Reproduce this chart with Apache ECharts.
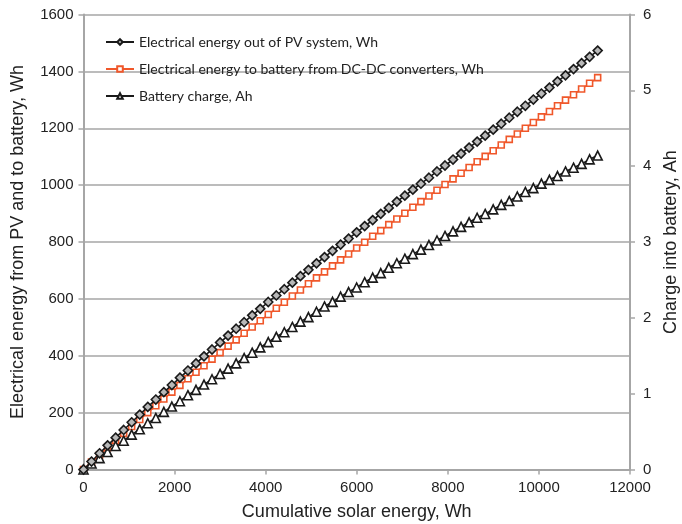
<!DOCTYPE html>
<html>
<head>
<meta charset="utf-8">
<script src="https://cdn.jsdelivr.net/npm/echarts@6/dist/echarts.min.js"></script>
<style>
  html, body { margin: 0; padding: 0; background: #fff; }
  #chart { width: 682px; height: 524px; }
</style>
</head>
<body>
<div id="chart"></div>
<script>
// cumulative solar energy, Wh
var solarWh = [0, 176, 353, 529, 706, 882, 1058, 1235, 1411, 1588, 1764, 1940, 2117, 2293, 2470, 2646,
  2822, 2999, 3175, 3352, 3528, 3704, 3881, 4057, 4234, 4410, 4586, 4763, 4939, 5116, 5292, 5468,
  5645, 5821, 5998, 6174, 6350, 6527, 6703, 6880, 7056, 7232, 7409, 7585, 7762, 7938, 8114, 8291,
  8467, 8644, 8820, 8996, 9173, 9349, 9526, 9702, 9878, 10055, 10231, 10408, 10584, 10760, 10937, 11113, 11290]

// electrical energy out of PV system, Wh
var pvOutWh = [0, 28, 57, 85, 112, 139, 166, 193, 220, 246, 272, 297, 323, 348, 373, 398,
  422, 447, 471, 495, 518, 542, 565, 589, 612, 634, 657, 680, 702, 725, 747, 769,
  791, 812, 834, 856, 877, 899, 920, 942, 963, 984, 1005, 1026, 1048, 1069, 1090, 1111,
  1132, 1153, 1174, 1195, 1216, 1237, 1258, 1279, 1301, 1322, 1343, 1365, 1386, 1408, 1429, 1451, 1473]

// electrical energy to battery from DC-DC converters, Wh
var toBatteryWh = [0, 26, 51, 77, 102, 127, 151, 176, 200, 224, 248, 272, 296, 319, 342, 365,
  388, 411, 434, 456, 479, 501, 523, 545, 567, 588, 610, 631, 653, 674, 695, 716,
  737, 758, 779, 799, 820, 840, 861, 881, 901, 922, 942, 962, 982, 1002, 1022, 1042,
  1062, 1082, 1101, 1121, 1141, 1161, 1180, 1200, 1220, 1240, 1259, 1279, 1299, 1318, 1338, 1358, 1378]

// battery charge, Ah
var chargeAh = [0, 0.08, 0.15, 0.23, 0.31, 0.38, 0.46, 0.53, 0.61, 0.68, 0.76, 0.83, 0.90, 0.98, 1.05, 1.12,
  1.19, 1.26, 1.33, 1.40, 1.47, 1.54, 1.61, 1.68, 1.75, 1.81, 1.88, 1.95, 2.01, 2.08, 2.15, 2.21,
  2.28, 2.34, 2.40, 2.47, 2.53, 2.59, 2.66, 2.72, 2.78, 2.84, 2.90, 2.96, 3.02, 3.08, 3.14, 3.20,
  3.26, 3.32, 3.37, 3.43, 3.49, 3.54, 3.60, 3.66, 3.71, 3.77, 3.82, 3.87, 3.93, 3.98, 4.03, 4.09, 4.14]

var seriesNames = [
  'Electrical energy out of PV system, Wh',
  'Electrical energy to battery from DC-DC converters, Wh',
  'Battery charge, Ah'
]

function pairs(ys) {
  return solarWh.map(function (x, i) { return [x, ys[i]] })
}

var axisGray = '#a6a6a6'
var textColor = '#222'
var font = '"Liberation Sans", Arial, sans-serif'
var plain = function (v) { return String(v) }

var chart = echarts.init(document.getElementById('chart'), null, { renderer: 'canvas' })
chart.setOption({
  animation: false,
  backgroundColor: '#fff',
  grid: { left: 83.5, right: 52, top: 14.5, bottom: 54.5, containLabel: false, outerBoundsMode: 'none' },
  legend: {
    orient: 'vertical',
    left: 100,
    top: 30,
    itemWidth: 28,
    itemHeight: 7,
    itemGap: 13,
    textStyle: { fontFamily: 'Lato, sans-serif', fontSize: 14, color: textColor },
    data: seriesNames
  },
  xAxis: {
    type: 'value',
    min: 0,
    max: 12000,
    interval: 2000,
    name: 'Cumulative solar energy, Wh',
    nameLocation: 'middle',
    nameGap: 34,
    nameTextStyle: { fontFamily: font, fontSize: 18, color: textColor },
    axisLine: { lineStyle: { color: axisGray, width: 2 } },
    axisTick: { show: true, length: 5, lineStyle: { color: axisGray, width: 1.5 } },
    axisLabel: { margin: 11, fontFamily: font, fontSize: 15, color: textColor, formatter: plain },
    splitLine: { show: false }
  },
  yAxis: [
    {
      type: 'value',
      min: 0,
      max: 1600,
      interval: 200,
      name: 'Electrical energy from PV and to battery, Wh',
      nameLocation: 'middle',
      nameGap: 56,
      nameTextStyle: { fontFamily: font, fontSize: 18, color: textColor },
      axisLine: { show: true, lineStyle: { color: axisGray, width: 2 } },
      axisTick: { show: true, length: 5, lineStyle: { color: axisGray, width: 1.5 } },
      axisLabel: { margin: 10, fontFamily: font, fontSize: 15, color: textColor, formatter: plain },
      splitLine: { show: true, lineStyle: { color: axisGray, width: 1.5 } }
    },
    {
      type: 'value',
      min: 0,
      max: 6,
      interval: 1,
      position: 'right',
      name: 'Charge into battery, Ah',
      nameLocation: 'middle',
      nameGap: 30,
      nameRotate: 90,
      nameTextStyle: { fontFamily: font, fontSize: 18, color: textColor },
      axisLine: { show: true, lineStyle: { color: axisGray, width: 2 } },
      axisTick: { show: true, length: 5, lineStyle: { color: axisGray, width: 1.5 } },
      axisLabel: { margin: 13, fontFamily: font, fontSize: 15, color: textColor, formatter: plain },
      splitLine: { show: false }
    }
  ],
  series: [
    {
      name: seriesNames[0],
      type: 'line',
      yAxisIndex: 0,
      data: pairs(pvOutWh),
      symbol: 'diamond',
      symbolSize: 9,
      z: 3,
      lineStyle: { color: '#1a1a1a', width: 1.6 },
      itemStyle: { color: '#b8b8b8', borderColor: '#1a1a1a', borderWidth: 1.6 }
    },
    {
      name: seriesNames[1],
      type: 'line',
      yAxisIndex: 0,
      data: pairs(toBatteryWh),
      symbol: 'rect',
      symbolSize: 6,
      z: 2,
      lineStyle: { color: '#f0572a', width: 1.6 },
      itemStyle: { color: '#ffffff', borderColor: '#f0572a', borderWidth: 1.6 }
    },
    {
      name: seriesNames[2],
      type: 'line',
      yAxisIndex: 1,
      data: pairs(chargeAh),
      symbol: 'triangle',
      symbolSize: 9,
      z: 2,
      lineStyle: { color: '#1a1a1a', width: 1.6 },
      itemStyle: { color: '#ffffff', borderColor: '#1a1a1a', borderWidth: 1.6 }
    }
  ]
})
</script>
</body>
</html>
